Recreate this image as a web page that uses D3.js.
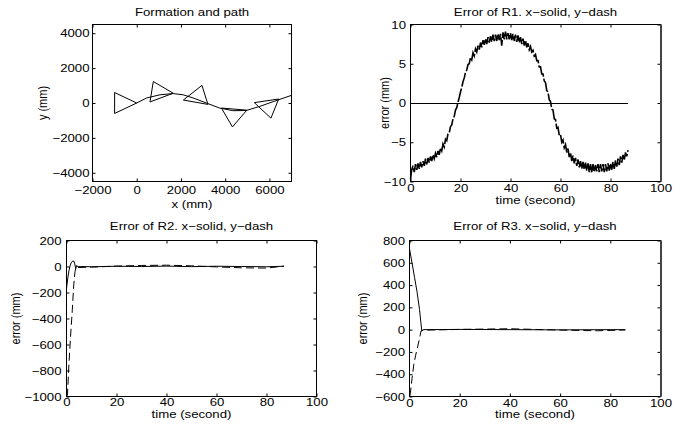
<!DOCTYPE html>
<html>
<head>
<meta charset="utf-8">
<script src="https://cdn.jsdelivr.net/npm/d3@7"></script>
<style>
  body { margin: 0; background: #fff; }
  svg { display: block; }
  text { font-family: 'Liberation Sans', Arial, Helvetica, sans-serif; fill: #000; }
</style>
</head>
<body>
<svg id="chart" width="688" height="428"></svg>
<script>
// ---- data ----

// formation plot: leader path (mm)
var pathX = [0, 450, 1050, 1650, 2100, 2550, 3150, 3750, 4350, 4950, 5550, 6200, 7000];
var pathY = [0, 290, 470, 540, 470, 290, 0, -290, -440, -430, -200, 90, 440];

// formation triangles, one row per snapshot (mm)
var triX = [
  [-1000, -1000, 0],
  [750, 1650, 600],
  [2950, 3220, 2110],
  [3830, 4980, 4330],
  [5320, 6420, 6070]
];
var triY = [
  [600, -600, 0],
  [1230, 560, 60],
  [1010, -80, 170],
  [-290, -410, -1370],
  [20, 230, -870]
];

// R1 error (mm), y sampled every 0.5 s
var r1xT = [0, 87];
var r1x = [0, 0];
var r1y = [
  -9.7, -8.5, -8.0, -8.8, -7.8, -8.5, -7.7, -8.4, -7.5, -8.2,
  -7.4, -8.0, -7.1, -7.8, -7.0, -7.6, -6.8, -7.4, -6.6, -7.1,
  -6.4, -6.9, -6.1, -6.6, -5.7, -6.1, -5.2, -5.6, -4.6, -4.8,
  -3.9, -3.8, -3.0, -2.8, -2.0, -1.7, -0.9, -0.6, 0.1, 0.7,
  1.4, 2.0, 2.7, 3.2, 3.9, 4.2, 4.9, 5.0, 5.8, 5.5,
  6.4, 6.0, 6.9, 6.5, 7.3, 6.8, 7.7, 7.1, 8.0, 7.4,
  8.2, 7.5, 8.4, 7.7, 8.5, 7.8, 8.7, 7.9, 8.7, 7.9,
  8.8, 8.0, 8.8, 7.3, 9.0, 8.1, 9.1, 8.1, 8.9, 8.1,
  8.9, 8.0, 8.8, 7.9, 8.7, 7.8, 8.6, 7.7, 8.4, 7.5,
  8.2, 7.3, 8.0, 7.1, 7.6, 6.8, 7.2, 6.5, 6.7, 6.0,
  6.2, 5.4, 5.4, 4.6, 4.6, 3.7, 3.7, 2.8, 2.6, 1.6,
  1.4, 0.4, 0.2, -0.8, -0.9, -2.0, -2.1, -3.2, -3.1, -4.1,
  -4.0, -5.0, -4.7, -5.7, -5.3, -6.3, -5.8, -6.9, -6.3, -7.4,
  -6.7, -7.7, -7.0, -8.0, -7.2, -8.2, -7.4, -8.4, -7.5, -8.5,
  -7.6, -8.6, -7.7, -8.8, -7.8, -8.9, -7.8, -8.8, -7.9, -8.7,
  -7.8, -8.8, -7.8, -8.7, -7.8, -8.8, -7.8, -8.7, -7.7, -8.6,
  -7.7, -8.5, -7.5, -8.4, -7.3, -8.1, -7.1, -7.9, -6.8, -7.6,
  -6.6, -7.3, -6.3, -6.8, -6.0
];
var r1yT = d3.range(r1y.length).map(function(i) { return i * 0.5; });

// R2 error (mm)
var r2xT = [0, 0.5, 1, 1.5, 2, 2.5, 3, 3.3, 3.7, 4.1, 4.6, 5.5, 10, 20, 30, 40, 50, 60, 70, 80, 87];
var r2x = [-170, -90, -30, 10, 32, 42, 40, 20, -18, 8, -3, 0, -2, 2, 0, 3, -1, 2, 0, -2, 2];
var r2yT = [0, 0.4, 1, 1.6, 2.3, 2.9, 3.4, 3.8, 4.5, 10, 20, 30, 40, 50, 60, 70, 80, 87];
var r2y = [-1000, -980, -740, -545, -340, -140, -40, -5, -8, -5, 3, 8, 10, 5, -3, -10, -12, 3];

// R3 error (mm)
var r3xT = [0, 1, 2, 3, 4, 4.5, 4.9, 5.5, 20, 40, 60, 80, 86];
var r3x = [725, 600, 470, 340, 180, 70, -12, 0, 2, 0, -2, 0, 0];
var r3yT = [0, 0.4, 1, 1.7, 2.4, 3.1, 3.9, 4.6, 5.3, 20, 40, 60, 75, 86];
var r3y = [-590, -560, -440, -316, -235, -167, -90, -12, -5, 2, 8, -4, -10, -3];

// tick values
var fpXTicks = [-2000, 0, 2000, 4000, 6000];
var fpYTicks = [-4000, -2000, 0, 2000, 4000];
var timeTicks = [0, 20, 40, 60, 80, 100];
var r1YTicks = [-10, -5, 0, 5, 10];
var r2YTicks = [-1000, -800, -600, -400, -200, 0, 200];
var r3YTicks = [-600, -400, -200, 0, 200, 400, 600, 800];

// ---- drawing ----
var svg = d3.select("#chart");
var SX = 1.2;        // the original glyphs are stretched sideways
var FS = 11;

var panels = [
  {title: "Formation and path", xlab: "x (mm)", ylab: "y (mm)",
   l: 92.5, r: 291.5, t: 24.5, b: 181.5, xd: [-2000, 7000], yd: [-4500, 4500],
   xt: fpXTicks, yt: fpYTicks, xpad: 5, ypad: 3, titleY: 16, xlabY: 207.5, ylabX: 47},
  {title: "Error of R1. x\u2212solid, y\u2212dash", xlab: "time (second)", ylab: "error (mm)",
   l: 410.5, r: 660.5, t: 24.5, b: 181.5, xd: [0, 100], yd: [-10, 10],
   xt: timeTicks, yt: r1YTicks, xpad: 3, ypad: 4.5, titleY: 16, xlabY: 204, ylabX: 388.5, thick: true},
  {title: "Error of R2. x\u2212solid, y\u2212dash", xlab: "time (second)", ylab: "error (mm)",
   l: 66.5, r: 316.5, t: 240.5, b: 396.5, xd: [0, 100], yd: [-1000, 200],
   xt: timeTicks, yt: r2YTicks, xpad: 2, ypad: 5, titleY: 230, xlabY: 418, ylabX: 19.5},
  {title: "Error of R3. x\u2212solid, y\u2212dash", xlab: "time (second)", ylab: "error (mm)",
   l: 409.5, r: 660.5, t: 240.5, b: 396.5, xd: [0, 100], yd: [-600, 800],
   xt: timeTicks, yt: r3YTicks, xpad: 2.5, ypad: 4.5, titleY: 230, xlabY: 418, ylabX: 367, thick: true}
];

function stretched(g, x, y, str, rot) {
  return g.append("text")
    .attr("transform", "translate(" + x + "," + y + ") scale(" + SX + ",1)" + (rot ? " rotate(-90)" : ""))
    .attr("text-anchor", "middle")
    .attr("font-size", FS)
    .text(str);
}

function drawPanel(p) {
  var x = d3.scaleLinear().domain(p.xd).range([p.l, p.r]);
  var y = d3.scaleLinear().domain(p.yd).range([p.b, p.t]);
  var g = svg.append("g");
  var fmt = d3.format("d");

  var ax = g.append("g").attr("transform", "translate(0," + p.b + ")")
    .call(d3.axisBottom(x).tickValues(p.xt).tickSize(-3).tickPadding(p.xpad).tickFormat(fmt));
  var ay = g.append("g").attr("transform", "translate(" + p.l + ",0)")
    .call(d3.axisLeft(y).tickValues(p.yt).tickSize(-3).tickPadding(p.ypad).tickFormat(fmt));
  g.append("g").attr("transform", "translate(0," + p.t + ")")
    .call(d3.axisTop(x).tickValues(p.xt).tickSize(-3).tickFormat(""));
  g.append("g").attr("transform", "translate(" + p.r + ",0)")
    .call(d3.axisRight(y).tickValues(p.yt).tickSize(-3).tickFormat(""));
  g.selectAll(".domain").remove();
  g.selectAll(".tick line").attr("stroke", "#000");

  [ax, ay].forEach(function(a) {
    a.attr("font-size", FS).attr("font-family", null);
    a.selectAll("text").attr("transform", "scale(" + SX + ",1)");
  });
  ay.selectAll("text").attr("x", -p.ypad / SX);

  g.append("rect")
    .attr("x", p.l).attr("y", p.t)
    .attr("width", p.r - p.l).attr("height", p.b - p.t)
    .attr("fill", "none").attr("stroke", "#000");
  if (p.thick) {
    g.append("line").attr("x1", p.r + 0.5).attr("x2", p.r + 0.5)
      .attr("y1", p.t).attr("y2", p.b)
      .attr("stroke", "#444").attr("stroke-width", 2);
  }

  stretched(g, (p.l + p.r) / 2, p.titleY, p.title);
  stretched(g, (p.l + p.r) / 2, p.xlabY, p.xlab);
  stretched(g, p.ylabX, (p.t + p.b) / 2, p.ylab, true);

  return {g: g, x: x, y: y};
}

function series(ctx, T, V, dash, w, crisp) {
  var line = d3.line()
    .x(function(d, i) { return ctx.x(T[i]); })
    .y(function(d) { return ctx.y(d); });
  ctx.g.append("path")
    .datum(V)
    .attr("d", line)
    .attr("fill", "none")
    .attr("stroke", "#000")
    .attr("stroke-width", w || 1)
    .attr("stroke-dasharray", dash || null)
    .attr("shape-rendering", crisp ? "crispEdges" : null);
}

// panel 1: formation and path
var c1 = drawPanel(panels[0]);
series(c1, pathX, pathY);
triX.forEach(function(tx, k) {
  var pts = tx.map(function(v, i) { return [c1.x(v), c1.y(triY[k][i])]; });
  c1.g.append("path")
    .attr("d", "M" + pts.join("L") + "Z")
    .attr("fill", "none")
    .attr("stroke", "#000");
});

// panel 2: R1
var c2 = drawPanel(panels[1]);
series(c2, r1xT, r1x, null, 1, true);
series(c2, r1yT, r1y, "14,2", 1.6);

// panel 3: R2
var c3 = drawPanel(panels[2]);
series(c3, r2xT, r2x);
series(c3, r2yT, r2y, "8,4");

// panel 4: R3
var c4 = drawPanel(panels[3]);
series(c4, r3xT, r3x);
series(c4, r3yT, r3y, "8,4");
</script>
</body>
</html>
